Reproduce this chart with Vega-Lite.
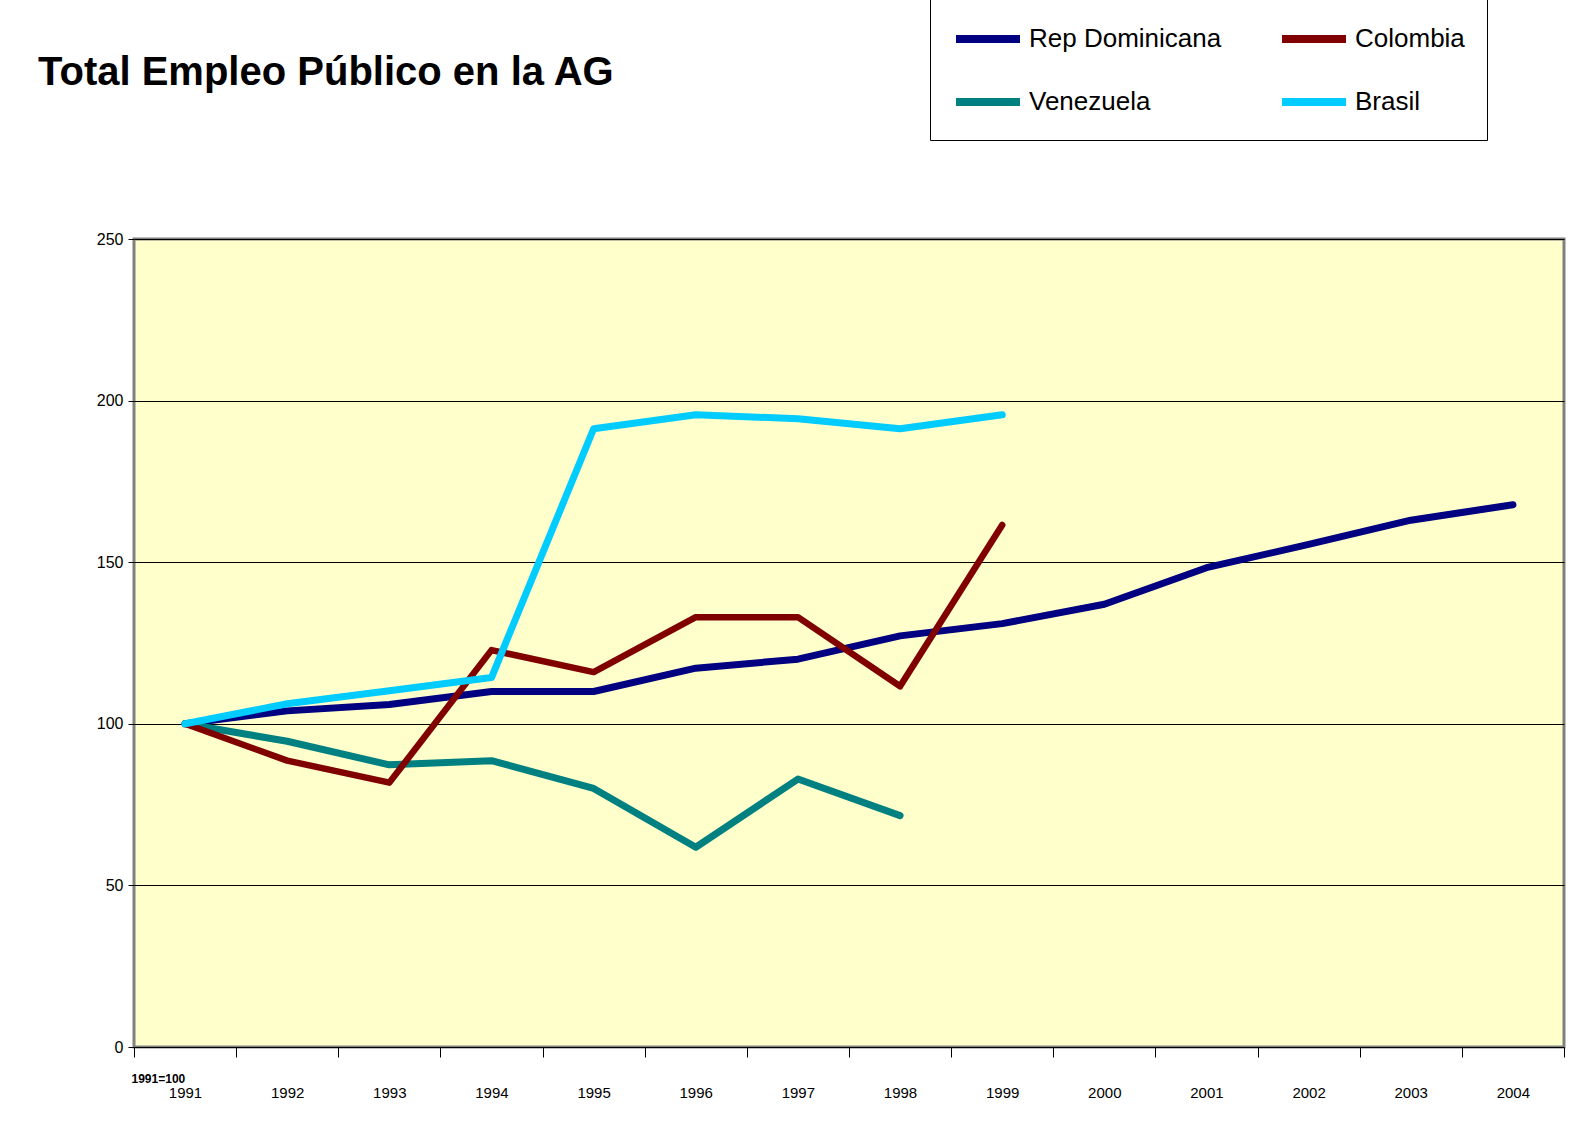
{
  "$schema": "https://vega.github.io/schema/vega-lite/v6.json",
  "autosize": {"type": "none"},
  "width": 1430,
  "height": 808,
  "padding": {"left": 134, "top": 239, "right": 17, "bottom": 75},
  "background": "white",
  "title": {
    "text": "Total Empleo Público en la AG",
    "anchor": "start",
    "orient": "top",
    "frame": "group",
    "baseline": "alphabetic",
    "offset": 0,
    "dy": 144,
    "dx": -96,
    "font": "Liberation Sans, Arial, sans-serif",
    "fontSize": 40,
    "fontWeight": "bold",
    "color": "black"
  },
  "data": {
    "values": [
      {"pais": "Rep Dominicana", "anio": 1991, "valor": 100},
      {"pais": "Rep Dominicana", "anio": 1992, "valor": 104},
      {"pais": "Rep Dominicana", "anio": 1993, "valor": 106},
      {"pais": "Rep Dominicana", "anio": 1994, "valor": 110},
      {"pais": "Rep Dominicana", "anio": 1995, "valor": 110},
      {"pais": "Rep Dominicana", "anio": 1996, "valor": 117.2},
      {"pais": "Rep Dominicana", "anio": 1997, "valor": 120},
      {"pais": "Rep Dominicana", "anio": 1998, "valor": 127.2},
      {"pais": "Rep Dominicana", "anio": 1999, "valor": 131},
      {"pais": "Rep Dominicana", "anio": 2000, "valor": 137},
      {"pais": "Rep Dominicana", "anio": 2001, "valor": 148.3},
      {"pais": "Rep Dominicana", "anio": 2002, "valor": 155.5},
      {"pais": "Rep Dominicana", "anio": 2003, "valor": 163},
      {"pais": "Rep Dominicana", "anio": 2004, "valor": 167.8},
      {"pais": "Colombia", "anio": 1991, "valor": 100},
      {"pais": "Colombia", "anio": 1992, "valor": 88.6},
      {"pais": "Colombia", "anio": 1993, "valor": 81.8},
      {"pais": "Colombia", "anio": 1994, "valor": 122.8},
      {"pais": "Colombia", "anio": 1995, "valor": 116},
      {"pais": "Colombia", "anio": 1996, "valor": 133},
      {"pais": "Colombia", "anio": 1997, "valor": 133},
      {"pais": "Colombia", "anio": 1998, "valor": 111.6},
      {"pais": "Colombia", "anio": 1999, "valor": 161.5},
      {"pais": "Venezuela", "anio": 1991, "valor": 100},
      {"pais": "Venezuela", "anio": 1992, "valor": 94.6},
      {"pais": "Venezuela", "anio": 1993, "valor": 87.3},
      {"pais": "Venezuela", "anio": 1994, "valor": 88.6},
      {"pais": "Venezuela", "anio": 1995, "valor": 80},
      {"pais": "Venezuela", "anio": 1996, "valor": 61.8},
      {"pais": "Venezuela", "anio": 1997, "valor": 82.9},
      {"pais": "Venezuela", "anio": 1998, "valor": 71.6},
      {"pais": "Brasil", "anio": 1991, "valor": 100},
      {"pais": "Brasil", "anio": 1992, "valor": 106.2},
      {"pais": "Brasil", "anio": 1993, "valor": 110.2},
      {"pais": "Brasil", "anio": 1994, "valor": 114.3},
      {"pais": "Brasil", "anio": 1995, "valor": 191.3},
      {"pais": "Brasil", "anio": 1996, "valor": 195.6},
      {"pais": "Brasil", "anio": 1997, "valor": 194.4},
      {"pais": "Brasil", "anio": 1998, "valor": 191.3},
      {"pais": "Brasil", "anio": 1999, "valor": 195.6}
    ]
  },
  "encoding": {
    "x": {
      "field": "anio",
      "type": "quantitative",
      "scale": {"domain": [1990.5, 2004.5], "nice": false, "zero": false},
      "axis": {
        "values": [1990.5, 1991.5, 1992.5, 1993.5, 1994.5, 1995.5, 1996.5, 1997.5, 1998.5, 1999.5, 2000.5, 2001.5, 2002.5, 2003.5, 2004.5],
        "labelExpr": "datum.value < 2004 ? format(datum.value + 0.5, 'd') : ''",
        "labelOffset": 51,
        "labelPadding": 28,
        "labelFont": "Liberation Sans, Arial, sans-serif",
        "labelFontSize": 15,
        "labelColor": "black",
        "labelFlush": false,
        "labelOverlap": false,
        "labelBound": false,
        "tickSize": 10,
        "tickColor": "black",
        "tickWidth": 1,
        "domain": false,
        "grid": false,
        "title": "1991=100",
        "titleFont": "Liberation Sans, Arial, sans-serif",
        "titleFontSize": 12,
        "titleFontWeight": "bold",
        "titleColor": "black",
        "titleAnchor": "start",
        "titleAlign": "left",
        "titleBaseline": "alphabetic",
        "titleX": -3,
        "titleY": 35
      }
    },
    "y": {
      "field": "valor",
      "type": "quantitative",
      "scale": {"domain": [0, 250], "nice": false},
      "axis": {
        "values": [0, 50, 100, 150, 200, 250],
        "labelFont": "Liberation Sans, Arial, sans-serif",
        "labelFontSize": 16,
        "labelColor": "black",
        "labelPadding": 5,
        "tickSize": 6,
        "tickColor": "black",
        "domain": false,
        "grid": true,
        "gridColor": "black",
        "gridWidth": 1,
        "title": null
      }
    },
    "color": {
      "field": "pais",
      "type": "nominal",
      "scale": {
        "domain": ["Rep Dominicana", "Colombia", "Venezuela", "Brasil"],
        "range": ["#000080", "#800000", "#008080", "#00CCFF"]
      },
      "legend": {
        "orient": "none",
        "legendX": 796,
        "legendY": -258,
        "columns": 2,
        "direction": "horizontal",
        "gridAlign": "all",
        "title": null,
        "symbolType": "stroke",
        "symbolSize": 4096,
        "symbolStrokeWidth": 8,
        "labelFont": "Liberation Sans, Arial, sans-serif",
        "labelFontSize": 26,
        "labelColor": "black",
        "labelOffset": 5,
        "labelLimit": 400,
        "columnPadding": 44,
        "rowPadding": 11,
        "padding": 22,
        "strokeColor": "black",
        "fillColor": "white"
      }
    }
  },
  "layer": [
    {"transform": [{"filter": "datum.pais == 'Rep Dominicana'"}], "mark": {"type": "line", "strokeWidth": 7, "strokeCap": "round", "strokeJoin": "round"}},
    {"transform": [{"filter": "datum.pais == 'Venezuela'"}], "mark": {"type": "line", "strokeWidth": 7, "strokeCap": "round", "strokeJoin": "round"}},
    {"transform": [{"filter": "datum.pais == 'Colombia'"}], "mark": {"type": "line", "strokeWidth": 6.5, "strokeCap": "round", "strokeJoin": "round"}},
    {"transform": [{"filter": "datum.pais == 'Brasil'"}], "mark": {"type": "line", "strokeWidth": 7, "strokeCap": "round", "strokeJoin": "round"}}
  ],
  "config": {
    "view": {"fill": "#FFFFCC", "stroke": "#808080", "strokeWidth": 3}
  }
}
